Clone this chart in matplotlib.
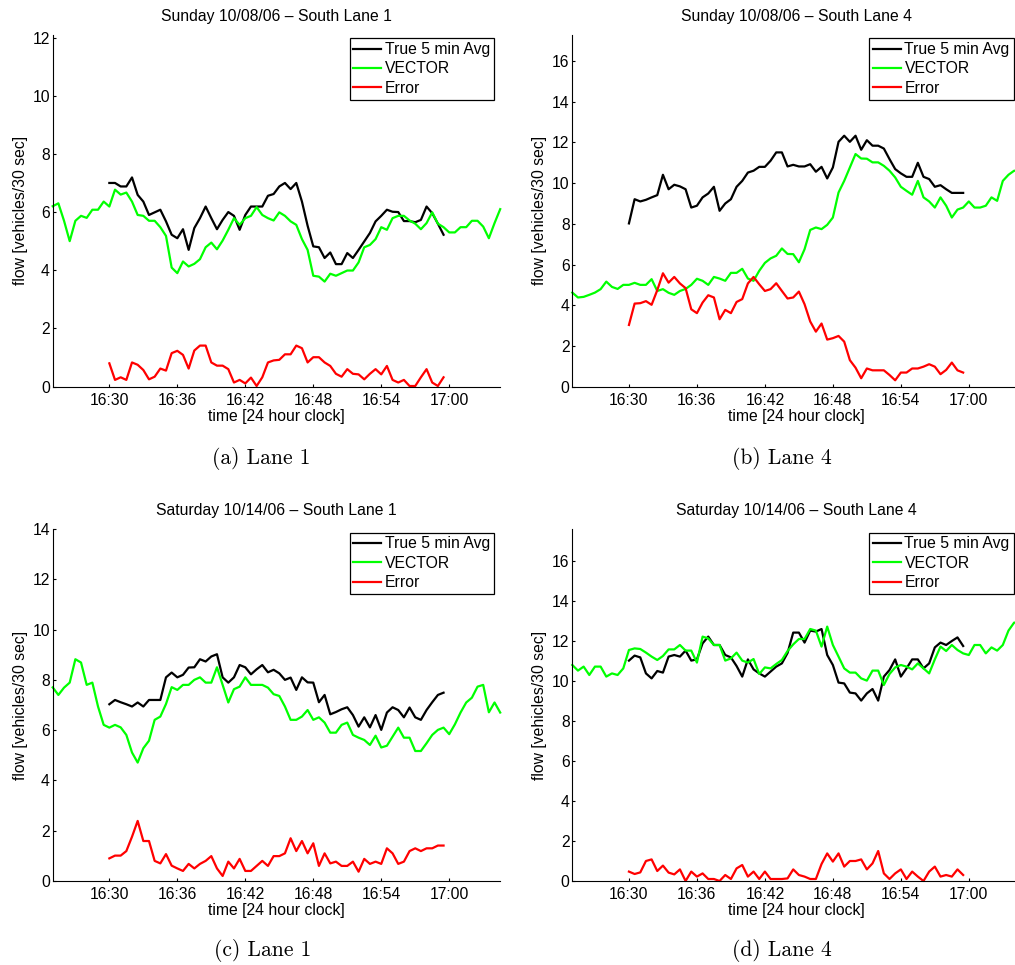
import numpy as np
import matplotlib
matplotlib.use("Agg")
import matplotlib.pyplot as plt

W, H, DPI = 1015, 965, 100

# ---- data (flow in vehicles / 30 sec), sampled every 30 s ----
# time in minutes relative to 16:30
t_vector = np.arange(-5.0, 35.0, 0.5)    # 16:25:00 .. 17:04:30
t_true = np.arange(0.0, 30.0, 0.5)       # 16:30:00 .. 16:59:30

tick_minutes = [0, 6, 12, 18, 24, 30]
tick_labels = ["16:30", "16:36", "16:42", "16:48", "16:54", "17:00"]

titles = ["Sunday 10/08/06 \u2013 South Lane 1",
          "Sunday 10/08/06 \u2013 South Lane 4",
          "Saturday 10/14/06 \u2013 South Lane 1",
          "Saturday 10/14/06 \u2013 South Lane 4"]
captions = ["(a) Lane 1", "(b) Lane 4", "(c) Lane 1", "(d) Lane 4"]
series_names = ["True 5 min Avg", "VECTOR", "Error"]

# (a) Sunday lane 1
vector_a = [6.2, 6.3, 5.7, 5.0, 5.7, 5.87, 5.8, 6.08, 6.08, 6.36,
            6.19, 6.77, 6.6, 6.67, 6.36, 5.9, 5.87, 5.7, 5.7, 5.48,
            5.18, 4.09, 3.9, 4.3, 4.13, 4.22, 4.38, 4.79, 4.95, 4.72,
            5.02, 5.39, 5.79, 5.56, 5.79, 5.87, 6.17, 5.9, 5.79, 5.71,
            5.99, 5.87, 5.68, 5.56, 5.07, 4.70, 3.81, 3.78, 3.61, 3.88,
            3.81, 3.90, 3.99, 3.99, 4.27, 4.79, 4.87, 5.07, 5.48, 5.39,
            5.79, 5.87, 5.87, 5.71, 5.6, 5.41, 5.62, 5.99, 5.6, 5.48,
            5.3, 5.3, 5.48, 5.48, 5.7, 5.7, 5.5, 5.1, 5.62, 6.1]
true_a = [7.0, 7.0, 6.88, 6.88, 7.19, 6.59, 6.36, 5.9, 5.99, 6.08,
          5.68, 5.22, 5.1, 5.41, 4.70, 5.45, 5.79, 6.19, 5.79, 5.41,
          5.73, 6.0, 5.87, 5.39, 5.9, 6.19, 6.19, 6.19, 6.56, 6.62,
          6.88, 7.0, 6.79, 7.0, 6.36, 5.53, 4.82, 4.79, 4.42, 4.61,
          4.21, 4.21, 4.59, 4.42, 4.70, 4.99, 5.28, 5.68, 5.87, 6.08,
          6.01, 6.0, 5.69, 5.69, 5.65, 5.73, 6.19, 5.96, 5.6, 5.22]
error_a = [0.80, 0.23, 0.32, 0.23, 0.83, 0.75, 0.57, 0.25, 0.34, 0.62,
           0.55, 1.15, 1.23, 1.09, 0.62, 1.24, 1.41, 1.41, 0.83, 0.72,
           0.72, 0.60, 0.14, 0.23, 0.11, 0.31, 0.02, 0.32, 0.83, 0.90,
           0.92, 1.11, 1.11, 1.41, 1.32, 0.83, 1.01, 1.01, 0.83, 0.71,
           0.44, 0.34, 0.60, 0.44, 0.42, 0.25, 0.44, 0.60, 0.42, 0.71,
           0.23, 0.14, 0.23, 0.02, 0.02, 0.32, 0.60, 0.14, 0.02, 0.32]

# (b) Sunday lane 4
vector_b = [4.62, 4.38, 4.41, 4.51, 4.62, 4.79, 5.16, 4.90, 4.80, 5.0,
            5.0, 5.10, 5.0, 5.0, 5.28, 4.70, 4.79, 4.61, 4.51, 4.70,
            4.80, 5.0, 5.30, 5.20, 5.0, 5.39, 5.31, 5.20, 5.59, 5.59,
            5.79, 5.31, 5.20, 5.69, 6.08, 6.30, 6.43, 6.79, 6.52, 6.51,
            6.11, 6.75, 7.70, 7.82, 7.74, 7.95, 8.31, 9.54, 10.11, 10.77,
            11.43, 11.21, 11.2, 11.02, 11.02, 10.85, 10.61, 10.28, 9.82, 9.62,
            9.43, 10.11, 9.30, 9.10, 8.80, 9.30, 8.89, 8.31, 8.70, 8.80,
            9.10, 8.80, 8.80, 8.89, 9.30, 9.13, 10.11, 10.41, 10.61, 10.6]
true_b = [8.02, 9.21, 9.10, 9.18, 9.30, 9.41, 10.41, 9.70, 9.92, 9.84,
          9.70, 8.80, 8.89, 9.30, 9.49, 9.82, 8.64, 9.0, 9.21, 9.82,
          10.11, 10.52, 10.61, 10.80, 10.80, 11.10, 11.51, 11.51, 10.82, 10.90,
          10.82, 10.82, 10.93, 10.56, 10.80, 10.23, 10.77, 12.03, 12.33, 12.03,
          12.33, 11.64, 12.11, 11.84, 11.84, 11.70, 11.18, 10.69, 10.48, 10.31,
          10.31, 11.0, 10.31, 10.2, 9.82, 9.90, 9.70, 9.52, 9.52, 9.52]
error_b = [3.03, 4.08, 4.10, 4.20, 4.02, 4.74, 5.57, 5.11, 5.39, 5.07,
           4.84, 3.80, 3.61, 4.13, 4.49, 4.38, 3.31, 3.77, 3.61, 4.16,
           4.30, 5.07, 5.39, 5.03, 4.70, 4.79, 5.08, 4.70, 4.33, 4.38,
           4.67, 4.05, 3.20, 2.70, 3.10, 2.31, 2.38, 2.49, 2.21, 1.30,
           0.93, 0.41, 0.89, 0.80, 0.80, 0.80, 0.57, 0.31, 0.69, 0.69,
           0.89, 0.89, 0.98, 1.10, 0.98, 0.61, 0.82, 1.18, 0.80, 0.69]

# (c) Saturday lane 1
vector_c = [7.7, 7.40, 7.69, 7.89, 8.82, 8.69, 7.80, 7.89, 6.94, 6.21,
            6.10, 6.21, 6.11, 5.81, 5.11, 4.71, 5.28, 5.58, 6.41, 6.54,
            7.04, 7.71, 7.60, 7.80, 7.80, 8.0, 8.10, 7.89, 7.89, 8.50,
            7.80, 7.10, 7.63, 7.73, 8.10, 7.80, 7.80, 7.80, 7.69, 7.43,
            7.36, 6.94, 6.41, 6.41, 6.54, 6.80, 6.41, 6.51, 6.30, 5.90,
            5.90, 6.21, 6.30, 5.81, 5.70, 5.61, 5.41, 5.78, 5.31, 5.38,
            5.74, 6.10, 5.70, 5.70, 5.17, 5.17, 5.48, 5.81, 6.01, 6.10,
            5.84, 6.23, 6.70, 7.10, 7.29, 7.73, 7.80, 6.71, 7.10, 6.70]
true_c = [7.03, 7.20, 7.11, 7.03, 6.94, 7.10, 6.94, 7.20, 7.20, 7.20,
          8.10, 8.29, 8.10, 8.20, 8.49, 8.50, 8.82, 8.73, 8.93, 9.02,
          8.10, 7.89, 8.10, 8.59, 8.50, 8.22, 8.42, 8.59, 8.30, 8.40,
          8.26, 8.0, 8.09, 7.60, 8.10, 7.90, 7.89, 7.11, 7.40, 6.63,
          6.72, 6.83, 6.91, 6.60, 6.14, 6.51, 6.11, 6.60, 6.01, 6.70,
          6.91, 6.80, 6.51, 6.90, 6.51, 6.41, 6.80, 7.11, 7.40, 7.49]
error_c = [0.90, 1.01, 1.01, 1.19, 1.76, 2.39, 1.59, 1.59, 0.80, 0.70,
           1.07, 0.61, 0.50, 0.40, 0.68, 0.50, 0.68, 0.80, 0.99, 0.50,
           0.20, 0.77, 0.50, 0.88, 0.40, 0.40, 0.60, 0.80, 0.60, 0.99,
           0.99, 1.10, 1.70, 1.19, 1.59, 1.10, 1.50, 0.60, 1.10, 0.70,
           0.77, 0.60, 0.60, 0.77, 0.37, 0.88, 0.68, 0.77, 0.68, 1.30,
           1.10, 0.68, 0.77, 1.19, 1.30, 1.19, 1.30, 1.30, 1.41, 1.41]

# (d) Saturday lane 4
vector_d = [10.80, 10.52, 10.72, 10.30, 10.72, 10.72, 10.22, 10.38, 10.30, 10.63,
            11.55, 11.63, 11.60, 11.42, 11.22, 11.05, 11.25, 11.58, 11.58, 11.80,
            11.52, 11.52, 10.92, 12.22, 12.13, 11.80, 11.80, 11.02, 11.13, 11.42,
            11.02, 10.92, 11.10, 10.35, 10.68, 10.63, 10.85, 11.05, 11.5, 11.83,
            12.10, 12.10, 12.60, 12.52, 11.72, 12.72, 11.80, 11.22, 10.63, 10.42,
            10.42, 10.13, 10.02, 10.52, 10.52, 9.80, 10.35, 10.68, 10.80, 10.72,
            10.58, 10.88, 10.63, 10.38, 11.08, 11.72, 11.50, 11.80, 11.55, 11.38,
            11.30, 11.80, 11.80, 11.38, 11.68, 11.52, 11.80, 12.52, 12.92, 12.9]
true_d = [11.02, 11.27, 11.18, 10.38, 10.13, 10.50, 10.42, 11.22, 11.30, 11.22,
          11.52, 11.02, 11.08, 11.88, 12.22, 11.80, 11.80, 11.30, 11.18, 10.75,
          10.22, 11.08, 10.58, 10.38, 10.22, 10.47, 10.72, 10.88, 11.4, 12.42,
          12.42, 11.92, 12.52, 12.47, 12.60, 11.30, 10.80, 9.92, 9.88, 9.42,
          9.38, 9.02, 9.38, 9.60, 9.02, 10.22, 10.55, 11.08, 10.22, 10.63,
          11.08, 11.08, 10.63, 10.88, 11.68, 11.92, 11.80, 12.0, 12.18, 11.75]
error_d = [0.47, 0.35, 0.43, 1.0, 1.08, 0.50, 0.77, 0.42, 0.33, 0.58,
           0.0, 0.47, 0.22, 0.38, 0.10, 0.10, 0.0, 0.30, 0.10, 0.63,
           0.80, 0.22, 0.47, 0.10, 0.47, 0.10, 0.10, 0.10, 0.13, 0.58,
           0.30, 0.22, 0.10, 0.10, 0.85, 1.38, 0.97, 1.38, 0.72, 1.0,
           1.0, 1.08, 0.58, 0.88, 1.50, 0.38, 0.10, 0.38, 0.58, 0.10,
           0.47, 0.22, 0.0, 0.47, 0.72, 0.22, 0.30, 0.22, 0.58, 0.30]

y_maxes = [12.1, 17.3, 14.0, 17.6]
y_ticks = [list(range(0, 13, 2)), list(range(0, 17, 2)),
           list(range(0, 15, 2)), list(range(0, 17, 2))]

panels = [(true_a, vector_a, error_a), (true_b, vector_b, error_b),
          (true_c, vector_c, error_c), (true_d, vector_d, error_d)]

# ---- layout (pixel boxes: left, top, right, bottom) ----
boxes = [(52.7, 34.6, 500.2, 386.6), (572.3, 34.6, 1019.8, 386.6),
         (52.7, 529.0, 500.2, 881.0), (572.3, 529.0, 1019.8, 881.0)]
caption_xy = [(261, 459), (782, 459), (263, 950), (782, 950)]

plt.rcParams['font.family'] = ['Liberation Sans', 'DejaVu Sans']
FS = 11.3

fig = plt.figure(figsize=(W / DPI, H / DPI), dpi=DPI)

colors = ['black', '#00ff00', '#ff0000']

for i, (box, data) in enumerate(zip(boxes, panels)):
    l, t, r, b = box
    ax = fig.add_axes([l / W, 1 - b / H, (r - l) / W, (b - t) / H])
    true_v, vec_v, err_v = data
    ax.plot(t_true, true_v, color=colors[0], lw=1.6, label=series_names[0], clip_on=False)
    ax.plot(t_vector, vec_v, color=colors[1], lw=1.6, label=series_names[1], clip_on=False)
    ax.plot(t_true, err_v, color=colors[2], lw=1.6, label=series_names[2], clip_on=False)
    ax.set_xlim(-5.0, 34.5)
    ax.set_ylim(0, y_maxes[i])
    ax.set_xticks(tick_minutes)
    ax.set_xticklabels(tick_labels)
    ax.set_yticks(y_ticks[i])
    for s in ['top', 'right']:
        ax.spines[s].set_visible(False)
    for s in ['left', 'bottom']:
        ax.spines[s].set_linewidth(0.8)
        ax.spines[s].set_color('black')
    ax.tick_params(direction='in', length=2.5, width=0.8, labelsize=FS, colors='black')
    ax.tick_params(axis='x', pad=4.5)
    ax.tick_params(axis='y', pad=2)
    ax.set_title(titles[i], fontsize=FS, pad=10)
    ax.set_xlabel("time [24 hour clock]", fontsize=FS, labelpad=0.5)
    ax.set_ylabel("flow [vehicles/30 sec]", fontsize=FS)
    ax.yaxis.set_label_coords(-0.056, 0.5)
    leg = ax.legend(loc='upper right', bbox_to_anchor=(0.9862, 0.990),
                    borderaxespad=0, fontsize=FS, frameon=True, fancybox=False,
                    framealpha=1, edgecolor='black', borderpad=0.25,
                    labelspacing=0.28, handlelength=1.75, handletextpad=0.25)
    leg.get_frame().set_linewidth(0.9)
    cx, cy = caption_xy[i]
    fig.text(cx / W, 1 - cy / H, captions[i], family='cmr10', fontsize=15.5,
             ha='center', va='center')

fig.savefig("out.png", dpi=DPI)
